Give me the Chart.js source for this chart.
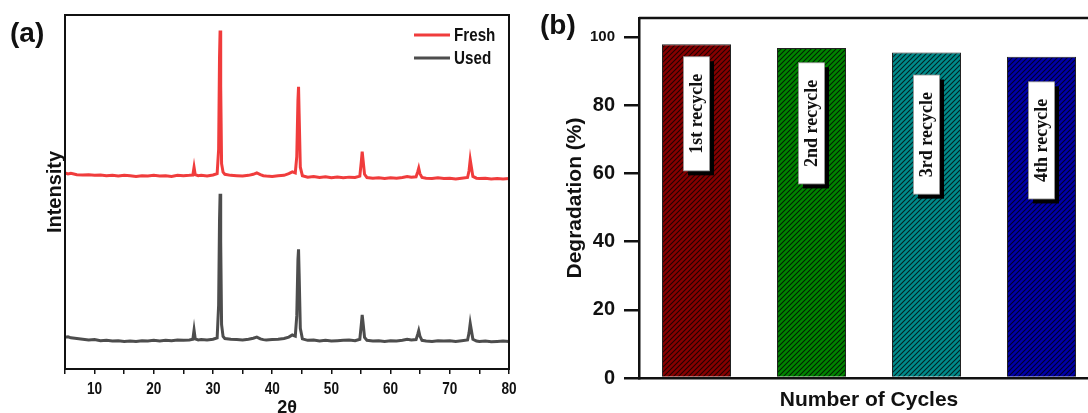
<!DOCTYPE html>
<html>
<head>
<meta charset="utf-8">
<script src="https://cdn.jsdelivr.net/npm/chart.js@4.4.1/dist/chart.umd.min.js"></script>
<style>
  html, body { margin: 0; padding: 0; background: #fff; overflow: hidden; }
  body { width: 1088px; height: 413px; position: relative; }
  .panel { position: absolute; top: 0; }
  .tag { position: absolute; font: bold 28px "Liberation Sans", Arial, sans-serif; color: #111; }
</style>
</head>
<body>
<div class="panel" style="left:0;width:540px;height:413px"><canvas id="xrd" width="540" height="413"></canvas></div>
<div class="panel" style="left:540px;width:560px;height:413px"><canvas id="cycles" width="560" height="413"></canvas></div>
<div class="tag" style="left:10px;top:17px">(a)</div>
<div class="tag" style="left:540px;top:9px">(b)</div>

<script>
// ---- data: panel (a) XRD patterns (Used is offset below Fresh) ----
const twoTheta = [5, 5.5, 6, 7, 8, 9, 10, 11, 12, 13, 14, 15, 16, 17, 18, 19, 20, 21, 22, 23, 24, 25,
  26, 26.6, 26.8, 27.0, 27.5, 28, 29, 30, 30.7, 30.95, 31.1, 31.2, 31.3, 31.45, 31.7, 32, 33, 34, 35, 36,
  36.8, 37.4, 38, 38.5, 39, 40, 41, 42, 42.8, 43.4, 43.9, 44.15, 44.35, 44.45, 44.55, 44.75, 45.1,
  46, 47, 48, 49, 50, 51, 52, 53, 54, 54.8, 55.05, 55.2, 55.35, 55.6, 56, 57, 58, 59, 60, 61, 62,
  62.8, 63.5, 64.3, 64.6, 64.75, 64.95, 65.3, 66, 67, 68, 69, 70, 71, 72, 73, 73.25, 73.45, 73.6,
  73.9, 74.5, 75, 76, 77, 78, 79, 80];
const fresh = [55.4, 55.1, 55.3, 54.9, 54.8, 54.9, 54.7, 54.8, 54.6, 54.7, 54.5, 54.7, 54.6, 54.4, 54.6, 54.5, 54.7, 54.5, 54.6, 54.4, 54.7, 54.6,
  54.7, 54.8, 57.0, 54.9, 54.6, 54.7, 54.5, 54.8, 55.2, 62.0, 88.0, 95.6, 80.0, 58.0, 55.6, 55.0, 54.7, 54.6, 54.5, 54.7,
  55.0, 55.4, 54.9, 54.6, 54.5, 54.4, 54.6, 54.7, 55.2, 55.7, 55.4, 60.0, 76.0, 79.7, 72.0, 57.0, 54.6,
  54.2, 54.4, 54.1, 54.3, 54.0, 54.2, 54.0, 54.2, 54.1, 54.5, 58.5, 61.4, 59.0, 55.0, 54.1, 53.9, 54.0, 53.8, 54.0, 53.9, 54.1,
  54.4, 54.2, 54.3, 55.8, 56.7, 55.2, 54.1, 53.9, 53.8, 54.0, 53.8, 53.9, 53.7, 53.9, 54.1, 56.0, 59.1, 57.5,
  54.4, 53.9, 53.8, 53.9, 53.7, 53.8, 53.7, 53.8];
const used = [9.0, 9.1, 8.8, 8.6, 8.4, 8.2, 8.3, 8.0, 8.1, 7.9, 8.0, 7.8, 7.9, 7.8, 8.0, 7.9, 8.1, 7.9, 8.1, 8.0, 8.2, 8.1,
  8.2, 8.4, 11.0, 8.5, 8.2, 8.3, 8.2, 8.4, 8.8, 18.0, 42.0, 49.5, 36.0, 12.5, 9.2, 8.6, 8.4, 8.3, 8.2, 8.4,
  8.7, 9.0, 8.5, 8.3, 8.2, 8.3, 8.4, 8.6, 9.0, 9.6, 9.3, 15.0, 31.0, 33.8, 27.0, 11.5, 8.5,
  8.1, 8.2, 7.9, 8.1, 7.9, 8.0, 8.1, 8.2, 8.0, 8.4, 12.5, 15.3, 13.0, 8.9, 8.1, 7.9, 8.0, 7.8, 8.0, 7.9, 8.1,
  8.4, 8.2, 8.3, 9.9, 10.8, 9.3, 8.1, 7.9, 7.8, 8.0, 7.9, 8.0, 7.8, 8.0, 8.2, 10.2, 12.9, 11.4,
  8.4, 7.9, 7.8, 7.9, 7.7, 7.8, 7.9, 7.8];

// ---- data: panel (b) degradation per cycle ----
const cycles = ['1st recycle', '2nd recycle', '3rd recycle', '4th recycle'];
const degradation = [97.9, 96.8, 95.5, 94.2];
// where the rotated name tags sit (centre, in % units)
const tagCentre = [77.5, 74.7, 71.4, 69.7];

const SANS = '"Liberation Sans", Arial, sans-serif';
const SERIF = '"Liberation Serif", "Times New Roman", serif';

function points(xs, ys) {
  return xs.map((x, i) => ({ x: x, y: ys[i] }));
}

// text in panel (a) is a bit condensed in the original
function narrowText(ctx, text, x, y, squeeze) {
  ctx.save();
  ctx.translate(x, y);
  ctx.scale(squeeze, 1);
  ctx.fillText(text, 0, 0);
  ctx.restore();
}

// frame around the plot area
const frameA = {
  id: 'frameA',
  afterDraw(chart) {
    const a = chart.chartArea, ctx = chart.ctx;
    ctx.save();
    ctx.strokeStyle = '#111';
    ctx.lineWidth = 2;
    ctx.strokeRect(a.left, a.top, a.right - a.left, a.bottom - a.top);
    ctx.restore();
  }
};

const tickLabelsA = {
  id: 'tickLabelsA',
  afterDraw(chart) {
    const s = chart.scales.x, ctx = chart.ctx;
    ctx.save();
    ctx.font = 'bold 17px ' + SANS;
    ctx.fillStyle = '#111';
    ctx.textAlign = 'center';
    ctx.textBaseline = 'middle';
    s.ticks.forEach(t => {
      if (t.value % 10 !== 0) return;
      narrowText(ctx, String(t.value), s.getPixelForValue(t.value), s.top + 20, 0.8);
    });
    ctx.restore();
  }
};

const legendA = {
  id: 'legendA',
  afterDraw(chart) {
    const a = chart.chartArea, ctx = chart.ctx;
    ctx.save();
    ctx.font = 'bold 19px ' + SANS;
    ctx.textBaseline = 'middle';
    chart.data.datasets.forEach((ds, i) => {
      const y = a.top + 20 + i * 23;
      ctx.strokeStyle = ds.borderColor;
      ctx.lineWidth = 3;
      ctx.beginPath();
      ctx.moveTo(a.right - 95, y);
      ctx.lineTo(a.right - 59, y);
      ctx.stroke();
      ctx.fillStyle = '#111';
      narrowText(ctx, ds.label, a.right - 55, y + 1, 0.8);
    });
    ctx.restore();
  }
};

new Chart(document.getElementById('xrd'), {
  type: 'line',
  data: {
    datasets: [
      { label: 'Fresh', data: points(twoTheta, fresh), borderColor: '#f03c3c', borderWidth: 3, pointRadius: 0, tension: 0 },
      { label: 'Used', data: points(twoTheta, used), borderColor: '#4d4d4d', borderWidth: 3, pointRadius: 0, tension: 0 }
    ]
  },
  options: {
    responsive: false,
    animation: false,
    devicePixelRatio: 1,
    layout: { padding: { top: 15, right: 31, left: 0, bottom: 0 } },
    plugins: { legend: { display: false }, tooltip: { enabled: false } },
    scales: {
      x: {
        type: 'linear', min: 5, max: 80,
        ticks: { stepSize: 5, autoSkip: false, display: false },
        grid: { drawOnChartArea: false, tickLength: 5, color: '#111', lineWidth: 1.5 },
        border: { display: true, color: '#111', width: 2 },
        title: { display: true, text: '2θ', color: '#111', font: { family: SANS, size: 18, weight: 'bold' }, padding: { top: 0, bottom: -6 } },
        afterFit(s) { s.height = 44; }
      },
      y: {
        min: 0, max: 100,
        ticks: { display: false },
        grid: { display: false },
        border: { display: true, color: '#111', width: 2 },
        title: { display: true, text: 'Intensity', color: '#111', font: { family: SANS, size: 20, weight: 'bold' }, padding: { top: 43, bottom: 0 } },
        afterFit(s) { s.width = 65; }
      }
    }
  },
  plugins: [frameA, tickLabelsA, legendA]
});

// hatched fills for the bars
function hatch(color) {
  const c = document.createElement('canvas');
  c.width = 5; c.height = 5;
  const g = c.getContext('2d');
  g.fillStyle = color;
  g.fillRect(0, 0, 5, 5);
  g.strokeStyle = 'rgba(0,0,0,0.75)';
  g.lineWidth = 1.1;
  g.beginPath();
  g.moveTo(0, 5); g.lineTo(5, 0);
  g.moveTo(-1, 1); g.lineTo(1, -1);
  g.moveTo(4, 6); g.lineTo(6, 4);
  g.stroke();
  return g.createPattern(c, 'repeat');
}

const topLineB = {
  id: 'topLineB',
  afterDraw(chart) {
    const a = chart.chartArea, ctx = chart.ctx;
    ctx.save();
    ctx.strokeStyle = '#111';
    ctx.lineWidth = 2.5;
    ctx.beginPath();
    ctx.moveTo(a.left, a.top);
    ctx.lineTo(chart.width, a.top);
    ctx.stroke();
    ctx.restore();
  }
};

const tagsB = {
  id: 'tagsB',
  afterDatasetsDraw(chart) {
    const ctx = chart.ctx, ys = chart.scales.y;
    const bars = chart.getDatasetMeta(0).data;
    ctx.save();
    ctx.font = 'bold 18px ' + SERIF;
    bars.forEach((bar, i) => {
      const text = chart.data.labels[i];
      const h = ctx.measureText(text).width + 34;
      const w = 26;
      const cx = bar.x, cy = ys.getPixelForValue(tagCentre[i]);
      ctx.fillStyle = '#000';
      ctx.fillRect(cx - w / 2 + 4.5, cy - h / 2 + 4.5, w, h);
      ctx.fillStyle = '#fff';
      ctx.fillRect(cx - w / 2, cy - h / 2, w, h);
      ctx.strokeStyle = '#999';
      ctx.lineWidth = 0.8;
      ctx.strokeRect(cx - w / 2, cy - h / 2, w, h);
      ctx.translate(cx, cy);
      ctx.rotate(-Math.PI / 2);
      ctx.fillStyle = '#111';
      ctx.textAlign = 'center';
      ctx.textBaseline = 'middle';
      ctx.fillText(text, 0, 1);
      ctx.setTransform(1, 0, 0, 1, 0, 0);
    });
    ctx.restore();
  }
};

new Chart(document.getElementById('cycles'), {
  type: 'bar',
  data: {
    labels: cycles,
    datasets: [{
      data: degradation,
      backgroundColor: [hatch('#860000'), hatch('#008400'), hatch('#008a8a'), hatch('#0000a8')],
      borderColor: '#222',
      borderWidth: 1,
      barPercentage: 0.6,
      categoryPercentage: 1
    }]
  },
  options: {
    responsive: false,
    animation: false,
    devicePixelRatio: 1,
    layout: { padding: { top: 13, right: 1, left: 0, bottom: 0 } },
    plugins: { legend: { display: false }, tooltip: { enabled: false } },
    scales: {
      x: {
        grid: { display: false },
        ticks: { display: false },
        border: { display: true, color: '#111', width: 2.5 },
        title: { display: true, text: 'Number of Cycles', color: '#111', font: { family: SANS, size: 21, weight: 'bold' }, padding: 0 },
        afterFit(s) { s.height = 35; }
      },
      y: {
        min: 0, max: 105.6,
        ticks: {
          stepSize: 20, includeBounds: false, color: '#111', padding: 9,
          font: c => ({ family: SANS, size: c.tick && c.tick.value === 100 ? 15 : 20, weight: 'bold' })
        },
        grid: { drawOnChartArea: false, tickLength: 15, color: '#111', lineWidth: 2.5 },
        border: { display: true, color: '#111', width: 2.5 },
        title: { display: true, text: 'Degradation (%)', color: '#111', font: { family: SANS, size: 21, weight: 'bold' }, padding: { top: 23, bottom: 0 } },
        afterFit(s) { s.width = 99; }
      }
    }
  },
  plugins: [topLineB, tagsB]
});
</script>
</body>
</html>
